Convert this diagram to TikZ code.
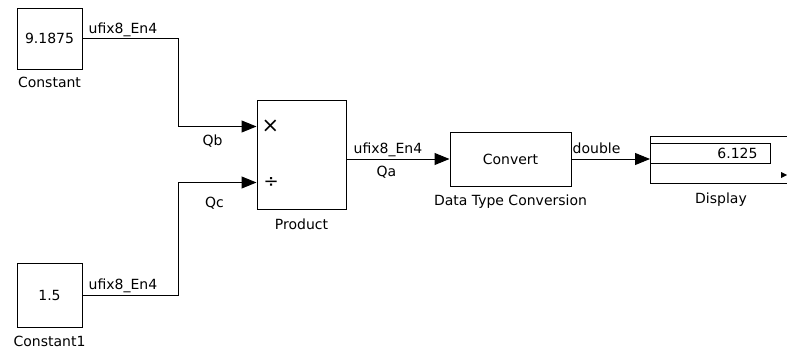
\documentclass[tikz,border=0pt]{standalone}
\usepackage{fontspec}
\setmainfont{DejaVu Sans}
\usetikzlibrary{arrows.meta,positioning}
\tikzset{
  block/.style={draw, line width=1pt, inner sep=0pt},
  sig/.style={line width=1pt, -{Triangle[length=15pt,width=12pt]}},
  lbl/.style={inner sep=0pt},
  opsign/.style={inner sep=0pt, font=\fontsize{21}{21}\selectfont},
}

\begin{document}
\begin{tikzpicture}[x=1pt,y=-1pt,font=\fontsize{14}{16}\selectfont]
\clip (0,0) rectangle (787,348);
% sources
\node[block, minimum width=65pt, minimum height=61pt] (const) at (49.5,38.5) {9.1875};
\node[lbl, below=7pt of const] (constname) {Constant};
\node[block, minimum width=65pt, minimum height=64pt] (const1) at (49.5,295) {1.5};
\node[lbl, below=8pt of const1] (const1name) {Constant1};
% product
\node[block, minimum width=89pt, minimum height=109pt] (prod) at (301.5,154.5) {};
\node[lbl, below=9pt of prod] (prodname) {Product};
\coordinate (prodin1) at ([yshift=-27pt]prod.north west);
\coordinate (prodin2) at ([yshift=-83pt]prod.north west);
\node[opsign, right=5pt of prodin1] (mul) {×};
\node[opsign, right=7pt of prodin2, font=\fontsize{18}{18}\selectfont] (dvd) {÷};
% conversion
\node[block, minimum width=121pt, minimum height=54pt] (conv) at (510.5,159) {Convert};
\node[lbl, below=8pt of conv] (convname) {Data Type Conversion};
% display
\node[block, anchor=west, minimum width=150pt, minimum height=47pt] (disp) at (650,159.5) {};
\node[block, anchor=west, minimum width=120pt, minimum height=20pt, inner xsep=13pt, text width=94pt, align=right] (dispval) at (650,153) {6.125};
\node[lbl, below=9pt of disp.south west, xshift=71pt] (dispname) {Display};
\fill (781,172) -- (787,175) -- (781,178) -- cycle;
% signals
\draw[sig] (const.east) -- ++(96,0) |- (prodin1);
\draw[sig] (const1.east) -- ++(96,0) |- (prodin2);
\draw[sig] (prod.east |- conv.west) -- (conv.west);
\draw[sig] (conv.east) -- (disp.west |- conv.east);
% signal labels
\node[lbl, anchor=base west] (t1) at ([xshift=6pt,yshift=5pt]const.east) {ufix8\_En4};
\node[lbl, anchor=base west] (t2) at ([xshift=6pt,yshift=6pt]const1.east) {ufix8\_En4};
\node[lbl, anchor=base west] (t3) at ([xshift=7pt,yshift=6pt]prod.east |- conv.west) {ufix8\_En4};
\node[lbl, anchor=base west] (t4) at ([xshift=1pt,yshift=6pt]conv.east) {double};
\node[lbl] (qb) at ([xshift=-44pt,yshift=-15pt]prodin1) {Qb};
\node[lbl] (qc) at ([xshift=-42pt,yshift=-21pt]prodin2) {Qc};
\node[lbl] (qa) at ([xshift=-63pt,yshift=-13pt]conv.west) {Qa};
\end{tikzpicture}
\end{document}
